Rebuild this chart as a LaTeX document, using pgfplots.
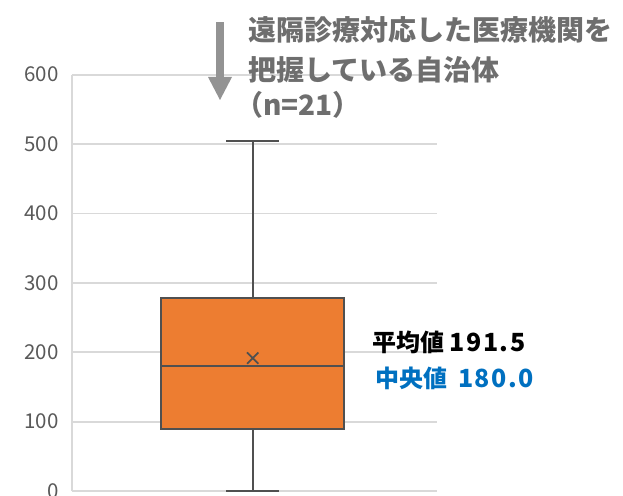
\documentclass[border=0pt]{standalone}
\usepackage{fontspec}
\setmainfont{Noto Sans CJK JP}
\usepackage{pgfplots}
\pgfplotsset{compat=1.18}
\definecolor{gridgray}{HTML}{D9D9D9}
\definecolor{ticktxt}{HTML}{595959}
\definecolor{boxfill}{HTML}{ED7D31}
\definecolor{boxline}{HTML}{505050}
\definecolor{notegray}{HTML}{6E6E6E}
\definecolor{medblue}{HTML}{0070C0}
\begin{document}
\begin{tikzpicture}[bx/.style={draw=boxline, line width=2pt, mark=none, solid}]
\begin{axis}[
    at={(0,0)}, anchor=south west,
    scale only axis, width=365pt, height=416.4pt,
    xmin=-1, xmax=1, ymin=0, ymax=600,
    xtick=\empty,
    ytick={0,100,...,600},
    ymajorgrids,
    grid style={gridgray, line width=1.8pt},
    axis x line*=bottom, axis y line*=left,
    axis line style={gridgray, line width=1.8pt, -},
    major tick length=0pt,
    tick label style={font=\fontsize{20.5}{24}\selectfont, color=ticktxt},
    yticklabel style={xshift=-10pt},
    /pgf/number format/assume math mode=true,
    clip=false,
]
% whiskers: min 0, Q1 89, Q3 278, max 505
\addplot[bx] coordinates {(-0.01,0) (-0.01,89)};
\addplot[bx] coordinates {(-0.01,278) (-0.01,505)};
\addplot[bx] coordinates {(-0.155,505) (0.135,505)};
\addplot[bx] coordinates {(-0.155,0) (0.135,0)};
% box Q1-Q3
\addplot[bx, fill=boxfill] coordinates {(-0.51,89) (0.49,89) (0.49,278) (-0.51,278)} -- cycle;
% median 180
\addplot[bx] coordinates {(-0.51,180) (0.49,180)};
% mean 191.5
\addplot[only marks, mark=x, mark size=8pt, mark options={draw=boxline, line width=1.8pt}]
    coordinates {(-0.01,191.5)};
\end{axis}
% annotation arrow and text (1pt = 1px of the reference, axis origin at (72,491))
\fill[gray!85] (144pt,469pt) rectangle (152pt,414pt);
\fill[gray!85] (136pt,414pt) -- (160pt,414pt) -- (148pt,391pt) -- cycle;
\begin{scope}[font=\fontsize{28}{34}\selectfont\bfseries, text=notegray]
\node[anchor=west, inner sep=0pt] at (176pt,461pt) {遠隔診療対応した医療機関を};
\node[anchor=west, inner sep=0pt] at (176pt,421pt) {把握している自治体};
\node[anchor=west, inner sep=0pt] at (163pt,386pt) {（n=21）};
\end{scope}
\node[anchor=west, inner sep=0pt, font=\fontsize{24}{28}\selectfont\bfseries] at (300pt,149pt)
    {平均値 {\fontsize{25}{28}\selectfont\addfontfeature{LetterSpace=6}191.5}};
\node[anchor=west, inner sep=0pt, font=\fontsize{24}{28}\selectfont\bfseries, text=medblue] at (303pt,113pt)
    {中央値\ \ {\fontsize{25}{28}\selectfont\addfontfeature{LetterSpace=6}180.0}};
\pgfresetboundingbox
\path (-72pt,-4pt) rectangle (551pt,491pt);
\end{tikzpicture}
\end{document}
